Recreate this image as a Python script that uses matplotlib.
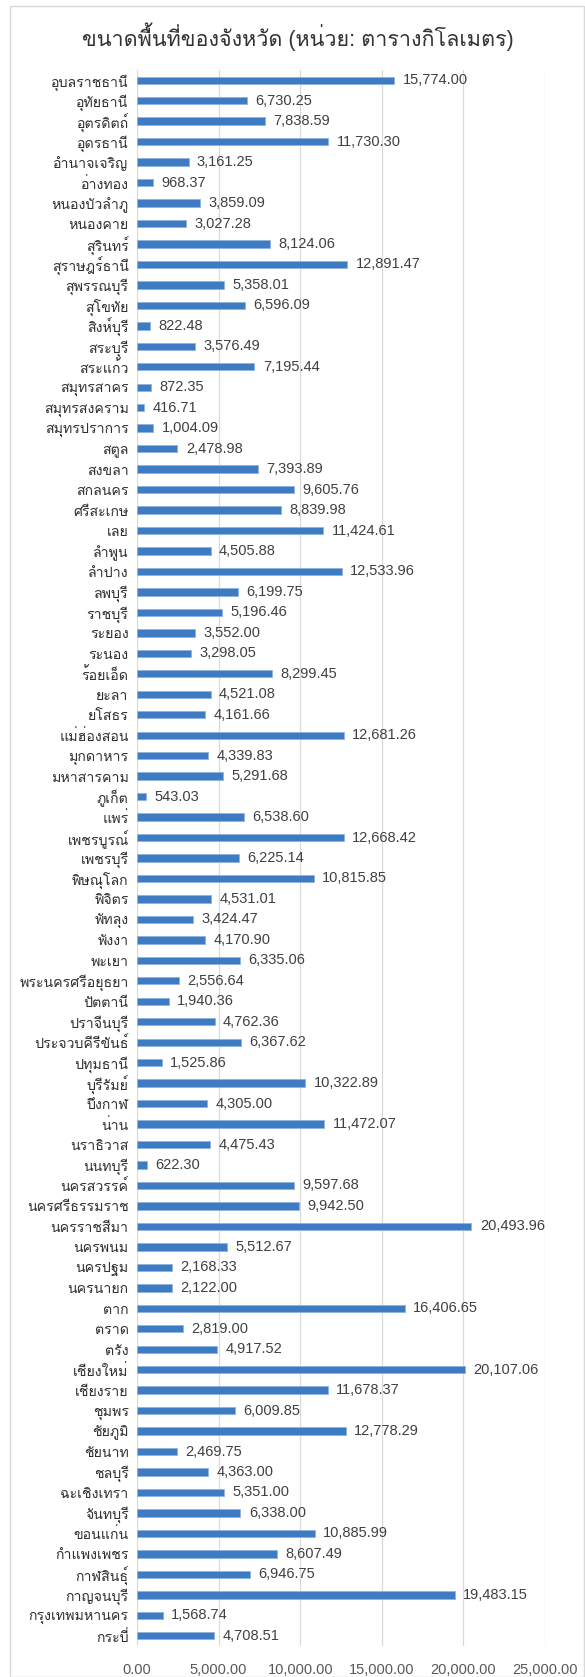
import matplotlib
matplotlib.use("Agg")
import matplotlib.pyplot as plt
from matplotlib import font_manager
from matplotlib.ft2font import FT2Font
from matplotlib.patches import Rectangle
from matplotlib.ticker import FuncFormatter, MultipleLocator

provinces = [
    "อุบลราชธานี", "อุทัยธานี", "อุตรดิตถ์", "อุดรธานี", "อำนาจเจริญ",
    "อ่างทอง", "หนองบัวลำภู", "หนองคาย", "สุรินทร์", "สุราษฎร์ธานี",
    "สุพรรณบุรี", "สุโขทัย", "สิงห์บุรี", "สระบุรี", "สระแก้ว",
    "สมุทรสาคร", "สมุทรสงคราม", "สมุทรปราการ", "สตูล", "สงขลา",
    "สกลนคร", "ศรีสะเกษ", "เลย", "ลำพูน", "ลำปาง",
    "ลพบุรี", "ราชบุรี", "ระยอง", "ระนอง", "ร้อยเอ็ด",
    "ยะลา", "ยโสธร", "แม่ฮ่องสอน", "มุกดาหาร", "มหาสารคาม",
    "ภูเก็ต", "แพร่", "เพชรบูรณ์", "เพชรบุรี", "พิษณุโลก",
    "พิจิตร", "พัทลุง", "พังงา", "พะเยา", "พระนครศรีอยุธยา",
    "ปัตตานี", "ปราจีนบุรี", "ประจวบคีรีขันธ์", "ปทุมธานี", "บุรีรัมย์",
    "บึงกาฬ", "น่าน", "นราธิวาส", "นนทบุรี", "นครสวรรค์",
    "นครศรีธรรมราช", "นครราชสีมา", "นครพนม", "นครปฐม", "นครนายก",
    "ตาก", "ตราด", "ตรัง", "เชียงใหม่", "เชียงราย",
    "ชุมพร", "ชัยภูมิ", "ชัยนาท", "ชลบุรี", "ฉะเชิงเทรา",
    "จันทบุรี", "ขอนแก่น", "กำแพงเพชร", "กาฬสินธุ์", "กาญจนบุรี",
    "กรุงเทพมหานคร", "กระบี่",
]
area_km2 = [
    15774.00, 6730.25, 7838.59, 11730.30, 3161.25,
    968.37, 3859.09, 3027.28, 8124.06, 12891.47,
    5358.01, 6596.09, 822.48, 3576.49, 7195.44,
    872.35, 416.71, 1004.09, 2478.98, 7393.89,
    9605.76, 8839.98, 11424.61, 4505.88, 12533.96,
    6199.75, 5196.46, 3552.00, 3298.05, 8299.45,
    4521.08, 4161.66, 12681.26, 4339.83, 5291.68,
    543.03, 6538.60, 12668.42, 6225.14, 10815.85,
    4531.01, 3424.47, 4170.90, 6335.06, 2556.64,
    1940.36, 4762.36, 6367.62, 1525.86, 10322.89,
    4305.00, 11472.07, 4475.43, 622.30, 9597.68,
    9942.50, 20493.96, 5512.67, 2168.33, 2122.00,
    16406.65, 2819.00, 4917.52, 20107.06, 11678.37,
    6009.85, 12778.29, 2469.75, 4363.00, 5351.00,
    6338.00, 10885.99, 8607.49, 6946.75, 19483.15,
    1568.74, 4708.51,
]
title = "ขนาดพื้นที่ของจังหวัด (หน่วย: ตารางกิโลเมตร)"


def thai_family():
    # first installed font that actually carries Thai glyphs
    for f in font_manager.fontManager.ttflist:
        try:
            cmap = FT2Font(f.fname).get_charmap()
        except Exception:
            continue
        if 0x0E01 in cmap and 0x0E38 in cmap:
            return f.name
    return "DejaVu Sans"


fam = ["Liberation Sans", thai_family(), "DejaVu Sans"]
plt.rcParams["font.family"] = fam

fig = plt.figure(figsize=(5.85, 16.77), dpi=100)
fig.patches.append(Rectangle((10 / 585, 0.0), 574 / 585, 1 - 6 / 1677,
                             transform=fig.transFigure, fill=False,
                             edgecolor="#d9d9d9", linewidth=1.0))

ax = fig.add_axes([137 / 585, 1 - 1646 / 1677, 408 / 585, 1576 / 1677])
y = list(range(len(provinces)))
bars = ax.barh(y, area_km2, height=0.36, color="#3d7bc2",
               edgecolor="#8fb2dc", linewidth=0.6, zorder=3)
ax.bar_label(bars, labels=[f"{v:,.2f}" for v in area_km2], padding=6,
             fontsize=10.5, color="#404040")

ax.set_yticks(y)
ax.set_yticklabels(provinces, fontsize=10.2, color="#303030")
ax.set_ylim(len(provinces) - 0.5, -0.5)
ax.set_xlim(0, 25000)
ax.xaxis.set_major_locator(MultipleLocator(5000))
ax.xaxis.set_major_formatter(FuncFormatter(lambda v, _: f"{v:,.2f}"))
ax.tick_params(axis="x", labelsize=10.5, labelcolor="#595959", length=0, pad=12)
ax.tick_params(axis="y", length=0, pad=6)
ax.grid(axis="x", color="#d9d9d9", linewidth=0.9, zorder=0)
for s in ax.spines.values():
    s.set_visible(False)

fig.text(0.51, 1 - 37 / 1677, title, ha="center", va="center",
         fontsize=15.5, color="#333333")

fig.savefig("out.png", dpi=100)
